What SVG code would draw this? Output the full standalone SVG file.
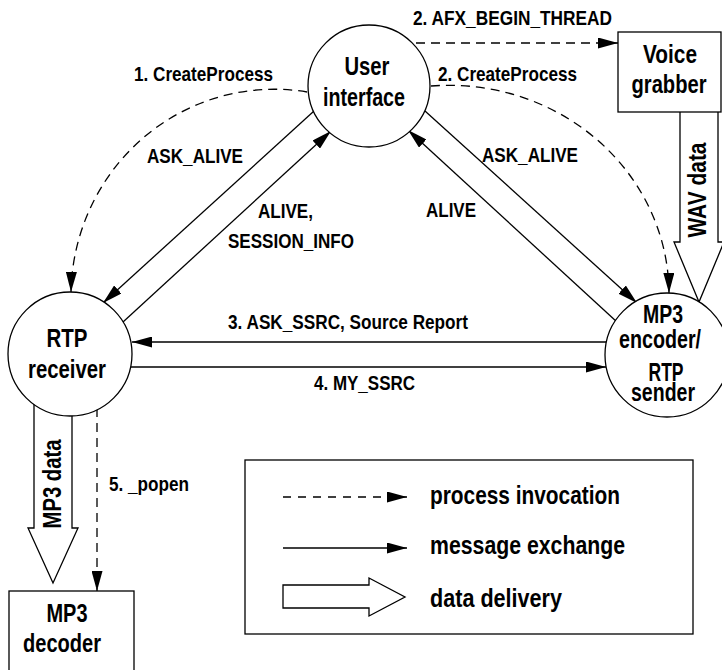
<svg xmlns="http://www.w3.org/2000/svg" width="722" height="670" viewBox="0 0 722 670">
  <defs>
    <marker id="arrow" viewBox="0 0 20 11" refX="20" refY="5.5" markerWidth="20" markerHeight="11" markerUnits="userSpaceOnUse" orient="auto">
      <path d="M0,0 L20,5.5 L0,11 z" fill="#000"/>
    </marker>
  </defs>
  <style>
    text { font-family: "Liberation Sans Narrow", "Liberation Sans", Arial, sans-serif; font-weight: bold; fill: #000; }
    .edge { font-size: 21px; }
    .name { font-size: 25px; text-anchor: middle; }
    .leg { font-size: 26px; }
    .line { fill: none; stroke: #000; stroke-width: 1.3; }
    .dash { stroke-dasharray: 9 6; }
    .shape { fill: #fff; stroke: #000; stroke-width: 1.3; }
  </style>
  <rect width="722" height="670" fill="#fff"/>

  <g id="connectors">
    <!-- data delivery arrows -->
    <path class="shape" d="M680,112 L680,242 L674,242 L699,302 L724,242 L718,242 L718,112"/>
    <text class="name" transform="translate(706,190) rotate(-90)" textLength="95" lengthAdjust="spacingAndGlyphs">WAV data</text>
    <path class="shape" d="M34,380 L34,528 L28,528 L53,583 L78,528 L72,528 L72,380"/>
    <text class="name" transform="translate(61,484) rotate(-90)" textLength="89" lengthAdjust="spacingAndGlyphs">MP3 data</text>

    <!-- process invocations -->
    <path class="line dash" d="M416,43 L618,43" marker-end="url(#arrow)"/>
    <text class="edge" x="413" y="25" textLength="199" lengthAdjust="spacingAndGlyphs">2. AFX_BEGIN_THREAD</text>
    <path class="line dash" d="M307,92 A203,207 0 0 0 71,292" marker-end="url(#arrow)"/>
    <text class="edge" x="134" y="81" textLength="139" lengthAdjust="spacingAndGlyphs">1. CreateProcess</text>
    <path class="line dash" d="M431,86 A220,209 0 0 1 669,293" marker-end="url(#arrow)"/>
    <text class="edge" x="438" y="81" textLength="139" lengthAdjust="spacingAndGlyphs">2. CreateProcess</text>
    <path class="line dash" d="M97,408 L97,591" marker-end="url(#arrow)"/>
    <text class="edge" x="109" y="491" textLength="80" lengthAdjust="spacingAndGlyphs">5. _popen</text>

    <!-- message exchanges -->
    <path class="line" d="M314,111 L103,303" marker-end="url(#arrow)"/>
    <text class="edge" x="147" y="163" textLength="96" lengthAdjust="spacingAndGlyphs">ASK_ALIVE</text>
    <path class="line" d="M123,322 L331,131" marker-end="url(#arrow)"/>
    <text class="edge" x="258" y="218" textLength="55" lengthAdjust="spacingAndGlyphs">ALIVE,</text>
    <text class="edge" x="228" y="248" textLength="126" lengthAdjust="spacingAndGlyphs">SESSION_INFO</text>
    <path class="line" d="M425,111 L637,303" marker-end="url(#arrow)"/>
    <text class="edge" x="482" y="162" textLength="96" lengthAdjust="spacingAndGlyphs">ASK_ALIVE</text>
    <path class="line" d="M617,322 L408,130" marker-end="url(#arrow)"/>
    <text class="edge" x="426" y="217" textLength="50" lengthAdjust="spacingAndGlyphs">ALIVE</text>
    <path class="line" d="M608,342 L132,342" marker-end="url(#arrow)"/>
    <text class="edge" x="228" y="329" textLength="240" lengthAdjust="spacingAndGlyphs">3. ASK_SSRC, Source Report</text>
    <path class="line" d="M129,367 L606,367" marker-end="url(#arrow)"/>
    <text class="edge" x="314" y="390" textLength="101" lengthAdjust="spacingAndGlyphs">4. MY_SSRC</text>
  </g>

  <g id="user-interface">
    <circle class="shape" cx="369" cy="86" r="61"/>
    <text class="name" x="367" y="75" textLength="45" lengthAdjust="spacingAndGlyphs">User</text>
    <text class="name" x="364" y="106" textLength="82" lengthAdjust="spacingAndGlyphs">interface</text>
  </g>

  <g id="voice-grabber">
    <rect class="shape" x="618" y="32" width="103" height="80"/>
    <text class="name" x="670" y="63" textLength="54" lengthAdjust="spacingAndGlyphs">Voice</text>
    <text class="name" x="669" y="93" textLength="75" lengthAdjust="spacingAndGlyphs">grabber</text>
  </g>

  <g id="rtp-receiver">
    <circle class="shape" cx="70" cy="354" r="62"/>
    <text class="name" x="67" y="347" textLength="41" lengthAdjust="spacingAndGlyphs">RTP</text>
    <text class="name" x="67" y="378" textLength="78" lengthAdjust="spacingAndGlyphs">receiver</text>
  </g>

  <g id="mp3-encoder">
    <circle class="shape" cx="667" cy="355" r="62"/>
    <text class="name" x="663" y="323" textLength="40" lengthAdjust="spacingAndGlyphs">MP3</text>
    <text class="name" x="660" y="348" textLength="82" lengthAdjust="spacingAndGlyphs">encoder/</text>
    <text class="name" x="666" y="381" textLength="35" lengthAdjust="spacingAndGlyphs">RTP</text>
    <text class="name" x="663" y="401" textLength="64" lengthAdjust="spacingAndGlyphs">sender</text>
  </g>

  <g id="mp3-decoder">
    <rect class="shape" x="9" y="591" width="125" height="90"/>
    <text class="name" x="67" y="622" textLength="41" lengthAdjust="spacingAndGlyphs">MP3</text>
    <text class="name" x="62" y="652" textLength="78" lengthAdjust="spacingAndGlyphs">decoder</text>
  </g>

  <g id="legend">
    <rect x="245" y="460" width="448" height="174" fill="#fff" stroke="#000" stroke-width="1.3"/>
    <path class="line" d="M283,497 L407,497" stroke-dasharray="8 7" marker-end="url(#arrow)"/>
    <text class="leg" x="430" y="504" textLength="190" lengthAdjust="spacingAndGlyphs">process invocation</text>
    <path class="line" d="M283,548 L407,548" marker-end="url(#arrow)"/>
    <text class="leg" x="430" y="554" textLength="195" lengthAdjust="spacingAndGlyphs">message exchange</text>
    <path class="shape" d="M283,585 L369,585 L369,578 L405,597 L369,616 L369,608 L283,608 Z"/>
    <text class="leg" x="430" y="607" textLength="132" lengthAdjust="spacingAndGlyphs">data delivery</text>
  </g>
</svg>
